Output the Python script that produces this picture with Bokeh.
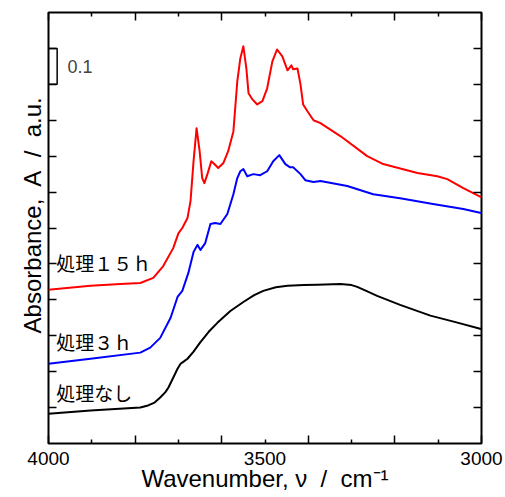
from bokeh.plotting import figure
from bokeh.models import Range1d, LinearAxis, FixedTicker, Label
from bokeh.embed import file_html
from bokeh.resources import INLINE

# ---- data ----
wn_red = [4000, 3903, 3834, 3788, 3758, 3735, 3712, 3700, 3691, 3679, 3672, 3665, 3658,
          3651, 3645, 3640, 3633, 3624, 3617, 3608, 3596, 3585, 3573, 3564, 3557,
          3550, 3543, 3538, 3529, 3518, 3506, 3495, 3483, 3472, 3460, 3448, 3439,
          3435, 3425, 3418, 3412, 3402, 3388, 3372, 3326, 3264, 3227, 3148, 3102,
          3079, 3042, 3001]
abs_red = [0.428, 0.439, 0.444, 0.447, 0.461, 0.494, 0.544, 0.585, 0.600, 0.628, 0.675, 0.786, 0.878,
           0.814, 0.739, 0.725, 0.750, 0.786, 0.778, 0.767, 0.781, 0.814, 0.869, 1.008, 1.072,
           1.106, 1.044, 0.975, 0.958, 0.944, 0.953, 0.989, 1.064, 1.097, 1.078, 1.039, 1.053,
           1.042, 1.044, 1.000, 0.944, 0.925, 0.900, 0.892, 0.856, 0.800, 0.778, 0.753, 0.744,
           0.736, 0.711, 0.686]

wn_blue = [4000, 3903, 3788, 3765, 3742, 3718, 3702, 3691, 3677, 3665, 3656, 3649,
           3638, 3626, 3615, 3603, 3587, 3573, 3564, 3557, 3550, 3541, 3527, 3511,
           3495, 3481, 3467, 3453, 3442, 3435, 3418, 3407, 3388, 3372, 3310, 3250,
           3188, 3112, 3042, 3001]
abs_blue = [0.222, 0.236, 0.253, 0.267, 0.294, 0.350, 0.408, 0.425, 0.475, 0.533, 0.553, 0.539,
            0.558, 0.611, 0.614, 0.611, 0.639, 0.694, 0.739, 0.758, 0.764, 0.744, 0.750, 0.747,
            0.758, 0.786, 0.803, 0.778, 0.769, 0.769, 0.750, 0.733, 0.728, 0.731, 0.717, 0.694,
            0.683, 0.667, 0.653, 0.642]

wn_black = [4000, 3903, 3788, 3770, 3755, 3742, 3730, 3723, 3712, 3702, 3695, 3688, 3679,
            3665, 3650, 3630, 3610, 3580, 3550, 3525, 3504, 3475, 3448, 3410, 3379,
            3326, 3300, 3287, 3265, 3241, 3188, 3118, 3060, 3001]
abs_black = [0.083, 0.092, 0.100, 0.106, 0.114, 0.128, 0.143, 0.156, 0.183, 0.208, 0.222, 0.228,
             0.236, 0.256, 0.281, 0.311, 0.336, 0.369, 0.394, 0.413, 0.425, 0.435, 0.439, 0.441,
             0.442, 0.444, 0.441, 0.436, 0.424, 0.411, 0.386, 0.356, 0.338, 0.319]

series_names = ["処理１５ｈ", "処理３ｈ", "処理なし"]
series_colors = ["#ff0000", "#0000ff", "#000000"]

x_major_ticks = [4000, 3800, 3600, 3400, 3200, 3000]
x_minor_ticks = [3900, 3700, 3500, 3300, 3100]
x_label_ticks = [4000, 3500, 3000]
y_ticks = [0.1, 0.2, 0.3, 0.4, 0.5, 0.6, 0.7, 0.8, 0.9, 1.0, 1.1]
scale_bar = [1.0, 1.1]

NB = "\u00a0"
x_title = "Wavenumber, ν" + NB + " /" + NB + " cm⁻¹"
y_title = NB * 4 + "Absorbance," + NB + " A" + NB + " /" + NB + " a.u."

FONT = "Liberation Sans"
CJK = "Noto Sans CJK JP"

p = figure(width=505, height=497, x_range=Range1d(4000, 3000), y_range=Range1d(0, 1.2),
           output_backend="svg", toolbar_location=None,
           x_axis_location=None, y_axis_location=None,
           min_border_left=48, min_border_right=24, min_border_top=12, min_border_bottom=54)
p.xgrid.grid_line_color = None
p.ygrid.grid_line_color = None
p.outline_line_color = "black"
p.outline_line_width = 2
p.background_fill_color = "white"
p.border_fill_color = "white"


def tick_axis(ticks, minor, major_in, minor_in, **kw):
    return LinearAxis(ticker=FixedTicker(ticks=ticks, minor_ticks=minor),
                      major_tick_in=major_in, major_tick_out=0,
                      minor_tick_in=minor_in, minor_tick_out=0,
                      major_tick_line_width=1.5, minor_tick_line_width=1.5,
                      axis_line_color=None,
                      major_label_overrides={t: "" for t in ticks},
                      major_label_text_font_size="6px", major_label_standoff=0, **kw)


# bottom: ticks nearest the frame, then the labelled axis
p.add_layout(tick_axis(x_major_ticks, x_minor_ticks, 8, 4), "below")
p.add_layout(LinearAxis(ticker=FixedTicker(ticks=x_label_ticks, minor_ticks=[]),
                        major_tick_in=0, major_tick_out=0, major_tick_line_color=None,
                        minor_tick_line_color=None, axis_line_color=None,
                        major_label_text_font=FONT, major_label_text_font_size="19px",
                        major_label_text_color="black", major_label_standoff=8,
                        axis_label=x_title, axis_label_text_font=FONT,
                        axis_label_text_font_size="24px", axis_label_text_font_style="normal",
                        axis_label_text_line_height=0.8,
                        axis_label_text_color="black", axis_label_standoff=-3), "below")
p.add_layout(tick_axis(x_major_ticks, x_minor_ticks, 8, 4), "above")
p.add_layout(tick_axis(y_ticks, [], 8, 0,
                       axis_label=y_title,
                       axis_label_text_font=FONT, axis_label_text_font_size="24px",
                       axis_label_text_font_style="normal", axis_label_text_color="black",
                       axis_label_standoff=3), "left")
p.add_layout(tick_axis(y_ticks, [], 8, 0), "right")

# spectra
p.line(wn_red, abs_red, line_color=series_colors[0], line_width=2, line_join="round")
p.line(wn_blue, abs_blue, line_color=series_colors[1], line_width=2, line_join="round")
p.line(wn_black, abs_black, line_color=series_colors[2], line_width=2, line_join="round")

# series labels
for name, yy in zip(series_names, [0.503, 0.283, 0.142]):
    p.add_layout(Label(x=3982, y=yy, text=name, text_font=CJK, text_font_size="19px",
                       text_color="black", text_align="left", text_baseline="middle"))

# scale bar 0.1
p.line([4000, 3980, 3980, 4000], [scale_bar[1], scale_bar[1], scale_bar[0], scale_bar[0]],
       line_color="black", line_width=1.5)
p.add_layout(Label(x=3956, y=sum(scale_bar) / 2, text="0.1", text_font=FONT,
                   text_font_size="18px", text_align="left", text_baseline="middle"))

open("out.html", "w").write(file_html(p, INLINE))
